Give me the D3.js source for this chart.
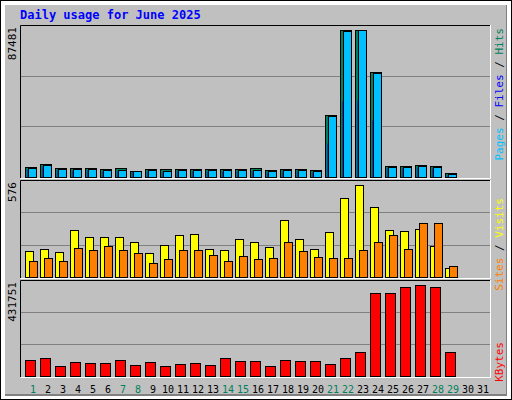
<!DOCTYPE html>
<html><head><meta charset="utf-8">
<script src="https://cdn.jsdelivr.net/npm/d3@7"></script>
<style>body{margin:0;background:#fff}</style></head>
<body><svg id="c" width="512" height="400"></svg>
<script>
const days = d3.range(1,32);
const weekendDays = [1,7,8,14,15,21,22,28,29];
const hits  = [5900,7700,5300,5300,5300,4700,5300,3800,4700,4700,4700,4700,4700,4700,4700,5300,4100,4700,5000,4100,36600,86900,87481,62100,6500,6500,7100,6500,2400,0,0];
const files = [4700,6500,4100,4100,4100,3500,3500,2700,3500,3000,3500,3500,3500,3500,3500,3500,3000,3500,3500,3000,20100,44900,45500,33700,5300,5300,5900,5300,1200,0,0];
const pages = [5300,7100,4700,4700,4700,4100,4100,3300,4100,3500,4100,4100,4100,4100,4100,4100,3500,4100,4100,3500,36000,86300,87481,61500,5900,5900,6500,5900,1800,0,0];
const visits= [164,177,158,295,252,252,252,220,152,202,264,270,177,171,239,220,189,358,239,177,283,489,576,433,295,289,302,196,58,0,0];
const sites = [102,121,102,183,171,196,171,152,89,114,171,171,139,102,133,114,121,220,164,127,121,121,171,220,264,177,339,339,71,0,0];
const kbytes= [77200,86700,48800,67800,63000,63000,77200,53600,67800,48800,58300,63000,53600,86700,72500,72500,48800,77200,72500,72500,58300,86700,115000,393900,393900,417600,431751,417600,115000,0,0];

const svg = d3.select('#c');
const font = 'DejaVu Sans Mono, monospace';
svg.append('rect').attr('x',0.5).attr('y',0.5).attr('width',511).attr('height',399).attr('fill','#fff').attr('stroke','#000');
svg.append('rect').attr('x',5).attr('y',5).attr('width',502).attr('height',391).attr('fill','#808080');
svg.append('rect').attr('x',5).attr('y',5).attr('width',501).attr('height',389).attr('fill','#C0C0C0');

svg.append('text').attr('x',20).attr('y',19).attr('fill','#0000FF').attr('font-family',font)
  .attr('font-weight','bold').attr('font-size',12).text('Daily usage for June 2025');

const x = d3.scaleBand().domain(days).range([22,487]).paddingInner(0);
function panel(top,bottom,max,label,series,rlabel,rEnd){
  svg.append('rect').attr('x',20).attr('y',top).attr('width',471).attr('height',bottom-top).attr('fill','#C0C0C0');
  const y = d3.scaleLinear().domain([0,max]).range([bottom-1,top+4.5]);
  const g = d3.scaleLinear().domain([0,3]).range([bottom-1,top]);
  [1,2].forEach(i=>svg.append('line').attr('x1',21).attr('x2',490).attr('y1',Math.round(g(i))+0.5).attr('y2',Math.round(g(i))+0.5).attr('stroke','#808080'));
  series.forEach(s=>{
    svg.append('g').selectAll('rect').data(days.filter((d,i)=>s.v[i]>0)).join('rect')
      .attr('x',d=>x(d)+s.dx+0.5).attr('width',s.w)
      .attr('y',d=>Math.round(y(s.v[d-1]))+0.5).attr('height',d=>bottom-1-Math.round(y(s.v[d-1])))
      .attr('fill',s.c).attr('stroke',s.stroke?'#000':'none');
  });
  svg.append('path').attr('d',`M20.5,${bottom}V${top+0.5}H491`).attr('stroke','#000').attr('fill','none');
  svg.append('path').attr('d',`M20.5,${bottom+0.5}H490.5V${top}`).attr('stroke','#fff').attr('fill','none');
  svg.append('text').attr('transform',`translate(16,${top+2}) rotate(-90)`).attr('text-anchor','end')
    .attr('font-family',font).attr('font-size',11).attr('fill','#000').text(label);
  const t = svg.append('text').attr('transform',`translate(503,${rEnd}) rotate(-90)`).attr('text-anchor','end')
    .attr('font-family',font).attr('font-size',11);
  rlabel.forEach(p=>t.append('tspan').attr('fill',p[1]).text(p[0]));
}
panel(25,178,87481,'87481',[
  {v:hits,c:'#00805C',dx:3,w:11,stroke:true},
  {v:files,c:'#0000FF',dx:5,w:9,stroke:false},
  {v:pages,c:'#00C0FF',dx:6,w:8,stroke:true}
],[['Pages','#00C0FF'],[' / ','#000'],['Files','#0000FF'],[' / ','#000'],['Hits','#00805C']],28);
panel(180,278,576,'576',[
  {v:visits,c:'#FFFF00',dx:3,w:8,stroke:true},
  {v:sites,c:'#FF8000',dx:7,w:8,stroke:true}
],[['Sites','#FF8000'],[' / ','#000'],['Visits','#FFFF00']],198);
panel(280,377,431751,'431751',[
  {v:kbytes,c:'#FF0000',dx:3,w:10,stroke:true}
],[['KBytes','#FF0000']],342);

svg.append('g').selectAll('text').data(days).join('text')
  .attr('x',d=>x(d)+11).attr('y',393).attr('text-anchor','middle')
  .attr('font-family',font).attr('font-size',10)
  .attr('fill',d=>weekendDays.includes(d)?'#00805C':'#000').text(d=>d);
</script></body></html>
